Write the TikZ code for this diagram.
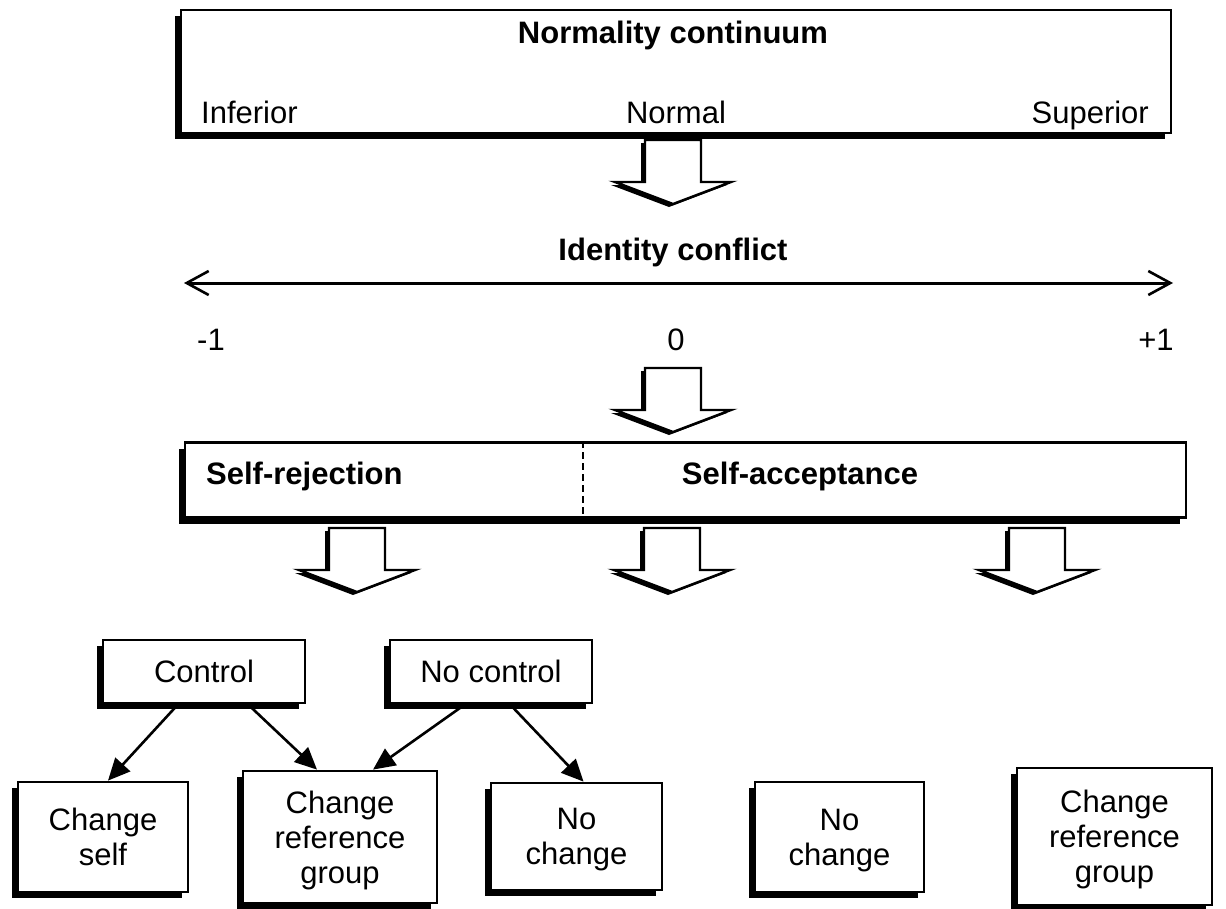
\documentclass[tikz,border=0pt]{standalone}
\usepackage{fontspec}
\setmainfont{Liberation Sans}
\usetikzlibrary{arrows.meta,shadows}

\tikzset{
  shadowbox/.style={draw, line width=2.8pt, fill=white, inner sep=0pt,
    align=center, text depth=0pt,
    drop shadow={shadow xshift=-6pt, shadow yshift=-6pt, fill=black, opacity=1}},
  lbl/.style={anchor=base, inner sep=0pt},
  boldlbl/.style={lbl, font=\fontsize{31}{35}\selectfont\bfseries},
  link/.style={line width=2.6pt, -{Triangle[length=22pt,width=20pt]}},
  blockarrow/.pic={
    \fill[black, shift={(-4,3)}] (-28,0) -- (28,0) -- (28,42) -- (58,42)
      -- (0,64) -- (-58,42) -- (-28,42) -- cycle;
    \draw[fill=white, line width=2.4pt, line join=miter] (-28,0) -- (28,0)
      -- (28,42) -- (58,42) -- (0,64) -- (-58,42) -- (-28,42) -- cycle;
  }
}

\begin{document}
\begin{tikzpicture}[x=1pt, y=-1pt, font=\fontsize{31}{35}\selectfont]
\useasboundingbox (0,0) rectangle (1226,908);

% normality continuum
\node[shadowbox, minimum width=990pt, minimum height=123pt] (cont) at (676,71.5) {};
\node[boldlbl] (conttitle) at (673,43) {Normality continuum};
\node[lbl, anchor=base west] (inf) at (201,123) {Inferior};
\node[lbl] (norm) at (676,123) {Normal};
\node[lbl, anchor=base east] (sup) at (1149,123) {Superior};

\pic (a1) at (673,140) {blockarrow};

% identity conflict scale
\node[boldlbl] (conflict) at (673,260) {Identity conflict};
\coordinate (lend) at (184,283);
\coordinate (rend) at (1173,283);
\draw[line width=3pt, {Straight Barb[length=22pt,width=24pt,line width=2.6pt]}-{Straight Barb[length=22pt,width=24pt,line width=2.6pt]}] (lend) -- (rend);
\node[lbl] (mone) at (211,350) {-1};
\node[lbl] (zero) at (676,350) {0};
\node[lbl] (pone) at (1156,350) {+1};

\pic (a2) at (673,368) {blockarrow};

% self-evaluation bar
\node[shadowbox, minimum width=1001pt, minimum height=75pt] (selfbar) at (685.5,480) {};
\coordinate (divx) at (583,0);
\draw[line width=1.8pt, dash pattern=on 7pt off 4pt] (selfbar.north -| divx) -- (selfbar.south -| divx);
\node[boldlbl, anchor=base west] (rej) at (206,484) {Self-rejection};
\node[boldlbl] (acc) at (800,484) {Self-acceptance};

\pic (a3) at (357,528) {blockarrow};
\pic (a4) at (672,528) {blockarrow};
\pic (a5) at (1037,528) {blockarrow};

% coping outcomes
\node[shadowbox, minimum width=202pt, minimum height=63pt] (ctrl) at (204,671.5) {Control};
\node[shadowbox, minimum width=202pt, minimum height=63pt] (nctrl) at (491,671.5) {No control};

\node[shadowbox, minimum width=170pt, minimum height=110pt] (cself) at (103,837) {Change\\self};
\node[shadowbox, minimum width=194pt, minimum height=132pt] (crg1) at (340,837) {Change\\reference\\group};
\node[shadowbox, minimum width=171pt, minimum height=107pt] (nch1) at (576.5,836.5) {No\\change};
\node[shadowbox, minimum width=169pt, minimum height=110pt] (nch2) at (839.5,837) {No\\change};
\node[shadowbox, minimum width=195pt, minimum height=137pt] (crg2) at (1114.5,836.5) {Change\\reference\\group};

\draw[link] ([xshift=-26pt]ctrl.south) -- ([xshift=5pt]cself.north);
\draw[link] ([xshift=44pt]ctrl.south) -- ([xshift=-23pt]crg1.north);
\draw[link] ([xshift=-26pt]nctrl.south) -- ([xshift=33pt]crg1.north);
\draw[link] ([xshift=19pt]nctrl.south) -- ([xshift=7pt]nch1.north);
\end{tikzpicture}
\end{document}
